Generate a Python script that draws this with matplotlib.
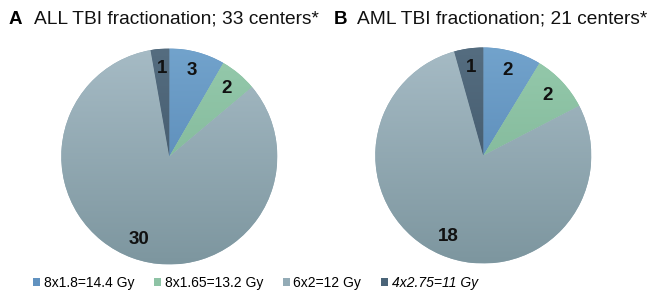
import matplotlib.pyplot as plt
import numpy as np
from matplotlib.colors import LinearSegmentedColormap
from matplotlib.patches import Patch

plt.rcParams['font.family'] = ['Liberation Sans', 'DejaVu Sans']

# ============================
# DATA
# ============================
regimens = ["8x1.8=14.4 Gy", "8x1.65=13.2 Gy", "6x2=12 Gy", "4x2.75=11 Gy"]
all_counts = [3, 2, 30, 1]
aml_counts = [2, 2, 18, 1]
panel_letters = ["A", "B"]
panel_titles = ["ALL TBI fractionation; 33 centers*", "AML TBI fractionation; 21 centers*"]

# (top, bottom) of the excel-like vertical gradient
grad_colors = [("#72a3cc", "#4f7fae"), ("#95caac", "#78ae90"),
               ("#a6bbc5", "#7d969f"), ("#556d80", "#3a5063")]
legend_colors = ["#6192c0", "#8ec3a5", "#93abb6", "#4a6478"]


def draw_pie(ax, counts):
    wedges, _ = ax.pie(counts, colors=legend_colors, startangle=90, counterclock=False,
                       radius=1.0, wedgeprops=dict(linewidth=0))
    grad = np.linspace(1, 0, 256).reshape(-1, 1)
    for w, (top, bottom) in zip(wedges, grad_colors):
        cmap = LinearSegmentedColormap.from_list("g", [bottom, top])
        im = ax.imshow(grad, cmap=cmap, extent=[-1, 1, -1, 1], aspect="auto",
                       vmin=0, vmax=1, zorder=w.get_zorder())
        im.set_clip_path(w)
    for w, n in zip(wedges, counts):
        mid = np.deg2rad((w.theta1 + w.theta2) / 2)
        ax.text(0.82 * np.cos(mid), 0.82 * np.sin(mid), str(n), ha="center", va="center",
                fontsize=13.5, fontweight="bold", color="#111111", zorder=5)
    ax.set_xlim(-1, 1)
    ax.set_ylim(-1, 1)
    ax.set_aspect("equal")
    ax.axis("off")


fig = plt.figure(figsize=(6.51, 2.94), dpi=100)

r = 108
ax1 = fig.add_axes([(169.3 - r) / 651, (294 - 156.5 - r) / 294, 2 * r / 651, 2 * r / 294])
ax2 = fig.add_axes([(483.3 - r) / 651, (294 - 155.5 - r) / 294, 2 * r / 651, 2 * r / 294])
draw_pie(ax1, all_counts)
draw_pie(ax2, aml_counts)

for x_letter, x_title, letter, title in [(9, 34, panel_letters[0], panel_titles[0]),
                                          (334, 357, panel_letters[1], panel_titles[1])]:
    fig.text(x_letter / 651, 1 - 19 / 294, letter, fontsize=13.5, fontweight="bold",
             va="center", ha="left")
    fig.text(x_title / 651, 1 - 19 / 294, title, fontsize=13.8, va="center", ha="left",
             color="#111111")

handles = [Patch(facecolor=c, edgecolor="none") for c in legend_colors]
leg = fig.legend(handles, regimens, loc="center", bbox_to_anchor=(255.5 / 651, 1 - 283 / 294),
                 ncol=4, frameon=False, fontsize=10, handlelength=0.48, handleheight=0.48,
                 handletextpad=0.27, columnspacing=1.44)
leg.get_texts()[-1].set_fontstyle("italic")

fig.savefig("out.png", dpi=100)
